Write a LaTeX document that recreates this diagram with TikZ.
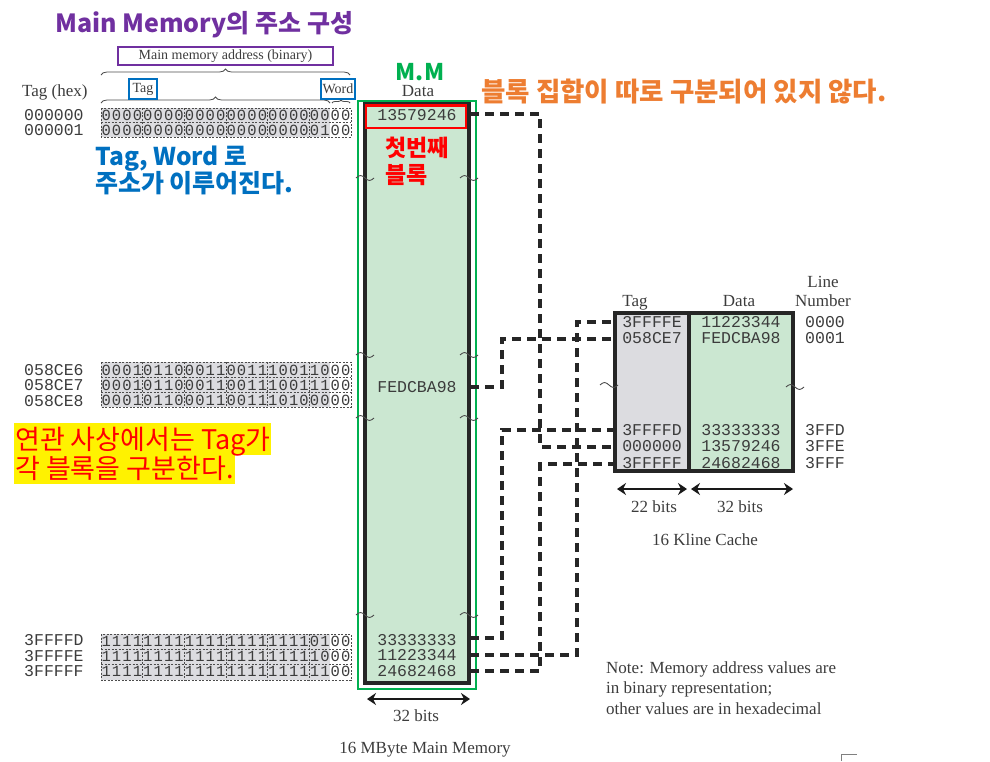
\documentclass[tikz,border=0pt]{standalone}
\usepackage{fontspec}
\setmainfont{Liberation Serif}
\setmonofont{Liberation Mono}
\newfontfamily\kr{Noto Sans CJK KR}
\usetikzlibrary{arrows.meta,decorations.pathreplacing}
\definecolor{mmpurple}{HTML}{7030A0}
\definecolor{mmblue}{HTML}{0070C0}
\definecolor{mmgreen}{HTML}{00B050}
\definecolor{mmorange}{HTML}{ED7D31}
\definecolor{memfill}{HTML}{CBE7D1}
\definecolor{tagfill}{HTML}{DCDCE0}
\definecolor{bitfill}{HTML}{DCDCE0}
\definecolor{txt}{HTML}{3C3C3C}
\newcommand\bitrow[3]{\foreach \b [count=\i from 0] in {#3}{\node[bit] (#1-\i) at ({106.2+10.4167*\i},#2) {\b};}}
\newcommand\bitgrid[2]{\fill[bitfill] (101,#1) rectangle (330,#2);
  \draw[bitdash] (101,#1) rectangle (351,#2);
  \foreach \k in {1,...,5}{\draw[bitdash] ({101+41.667*\k},#1) -- ({101+41.667*\k},#2);}}
\begin{document}
\begin{tikzpicture}[x=1pt,y=-1pt,
 serif/.style={font=\fontsize{17}{20}\selectfont, text=txt, inner sep=0pt},
 mono/.style={font=\ttfamily\fontsize{16.5}{18}\selectfont, text=txt, inner sep=0pt},
 bit/.style={font=\ttfamily\fontsize{15.5}{17}\selectfont, text=txt, inner sep=0pt},
 krb/.style={font=\kr\bfseries\fontsize{25}{30}\selectfont, inner sep=0pt},
 krr/.style={font=\kr\fontsize{27}{30}\selectfont, inner sep=0pt},
 bitdash/.style={draw=black!70, line width=0.8pt, dash pattern=on 2pt off 1.5pt},
 conn/.style={draw=black!85, line width=3.2pt, dash pattern=on 9pt off 6pt},
 dimarrow/.style={{Stealth[length=9pt,width=12pt]}-{Stealth[length=9pt,width=12pt]}, line width=2.2pt, draw=black!90},
 squig/.pic={\draw[line width=0.9pt, draw=black!70] (-9,0) sin (-4.5,-2.5) cos (0,0) sin (4.5,2.5) cos (9,0);},
 brc/.style={decorate, decoration={brace, amplitude=6pt}, draw=black!70, line width=0.8pt}
]
\useasboundingbox (0,0) rectangle (990,761);

% ---- title and address header
\node[krb, text=mmpurple, anchor=base west] (title) at (55,32) {Main Memory의 주소 구성};
\node[draw=mmpurple, line width=2.5pt, minimum width=215pt, minimum height=18pt, inner sep=0pt,
      font=\fontsize{14}{16}\selectfont, text=txt] (addrlbl) at (225.5,56) {Main memory address (binary)};
\draw[brc] (101,75) -- (350,75);
\draw[brc] (101,103) -- (330,103);
\draw[brc, decoration={brace, amplitude=3pt}] (332,103) -- (350,103);
\node[serif, anchor=base west] (taghex) at (22,96) {Tag (hex)};
\node[draw=mmblue, line width=2.3pt, minimum width=28pt, minimum height=20pt, inner sep=0pt,
      font=\fontsize{14}{16}\selectfont, text=txt] (tagbox) at (143,89) {Tag};
\node[draw=mmblue, line width=2.3pt, minimum width=34pt, minimum height=20pt, inner sep=0pt,
      font=\fontsize{14}{16}\selectfont, text=txt] (wordbox) at (338,89) {Word};
\node[krb, font=\kr\bfseries\fontsize{23}{26}\selectfont, text=mmgreen, anchor=base] (mmlbl) at (420,80) {M.M};
\node[serif, anchor=base] (datahdr) at (418,96.5) {Data};

% ---- binary address blocks
\bitgrid{108}{137}
\draw[bitdash] (101,122.5) -- (351,122.5);
\bitgrid{362}{407}
\draw[bitdash] (101,377) -- (351,377);
\draw[bitdash] (101,392) -- (351,392);
\bitgrid{634}{680}
\draw[bitdash] (101,649) -- (351,649);
\draw[bitdash] (101,664.5) -- (351,664.5);

\node[mono, anchor=west] (h1) at (24,115) {000000};
\node[mono, anchor=west] (h2) at (24,130.5) {000001};
\node[mono, anchor=west] (h3) at (24,370) {058CE6};
\node[mono, anchor=west] (h4) at (24,385.5) {058CE7};
\node[mono, anchor=west] (h5) at (24,401) {058CE8};
\node[mono, anchor=west] (h6) at (24,640.5) {3FFFFD};
\node[mono, anchor=west] (h7) at (24,656) {3FFFFE};
\node[mono, anchor=west] (h8) at (24,671.5) {3FFFFF};

\bitrow{ba}{115.5}{0,0,0,0,0,0,0,0,0,0,0,0,0,0,0,0,0,0,0,0,0,0,0,0}
\bitrow{bb}{130}{0,0,0,0,0,0,0,0,0,0,0,0,0,0,0,0,0,0,0,0,0,1,0,0}
\bitrow{bc}{370}{0,0,0,1,0,1,1,0,0,0,1,1,0,0,1,1,1,0,0,1,1,0,0,0}
\bitrow{bd}{385}{0,0,0,1,0,1,1,0,0,0,1,1,0,0,1,1,1,0,0,1,1,1,0,0}
\bitrow{be}{400.5}{0,0,0,1,0,1,1,0,0,0,1,1,0,0,1,1,1,0,1,0,0,0,0,0}
\bitrow{bf}{641}{1,1,1,1,1,1,1,1,1,1,1,1,1,1,1,1,1,1,1,1,0,1,0,0}
\bitrow{bg}{656}{1,1,1,1,1,1,1,1,1,1,1,1,1,1,1,1,1,1,1,1,1,0,0,0}
\bitrow{bh}{671.5}{1,1,1,1,1,1,1,1,1,1,1,1,1,1,1,1,1,1,1,1,1,1,0,0}

% ---- annotations on the left
\node[krb, font=\kr\bfseries\fontsize{24.5}{27}\selectfont, text=mmblue, anchor=base west] (note1a) at (95,165) {Tag, Word 로};
\node[krb, font=\kr\bfseries\fontsize{25}{27}\selectfont, text=mmblue, anchor=base west] (note1b) at (95,192) {주소가 이루어진다.};
\node[krr, text=red, fill=yellow, anchor=base west, inner xsep=1pt, text height=26pt, text depth=6pt] (note2b) at (14,478) {각 블록을 구분한다.};
\node[krr, text=red, fill=yellow, anchor=base west, inner xsep=1pt, text height=26pt, text depth=6pt] (note2a) at (14,449) {연관 사상에서는 Tag가};

% ---- main memory column
\fill[memfill] (365,103) rectangle (469,683);
\draw[line width=4pt, draw=black!85] (365,103) rectangle (469,683);
\draw[mmgreen, line width=2.5pt] (358,101) rectangle (476,689);
\draw[red, line width=2.8pt] (366,105.5) rectangle (466,128);
\node[mono] (m1) at (417,115) {13579246};
\node[mono] (m2) at (417,387) {FEDCBA98};
\node[mono] (m3) at (417,640) {33333333};
\node[mono] (m4) at (417,655.5) {11223344};
\node[mono] (m5) at (417,671) {24682468};
\node[krb, font=\kr\bfseries\fontsize{23}{26}\selectfont, text=red, anchor=base west] (first1) at (385,156) {첫번째};
\node[krb, font=\kr\bfseries\fontsize{23}{26}\selectfont, text=red, anchor=base west] (first2) at (385,183) {블록};
\foreach \yy in {178,355,418,615}{\pic at (365,\yy) {squig}; \pic at (469,\yy) {squig};}

\coordinate (ma1) at (367,699);
\coordinate (ma2) at (470,699);
\draw[dimarrow] (ma1) -- (ma2);
\node[serif, anchor=base] (mbits) at (416,721) {32 bits};
\node[serif, anchor=base] (mmcap) at (425,753) {16 MByte Main Memory};

% ---- orange remark
\node[krb, font=\kr\bfseries\fontsize{26.5}{30}\selectfont, text=mmorange, anchor=base west] (orange) at (481,101) {블록 집합이 따로 구분되어 있지 않다.};

% ---- cache
\fill[tagfill] (615,313) rectangle (689,471);
\fill[memfill] (689,313) rectangle (793,471);
\draw[line width=3.5pt, draw=black!85] (615,313) rectangle (793,471);
\draw[line width=3.5pt, draw=black!85] (689,313) -- (689,471);
\node[serif, anchor=base] (ctaghdr) at (635,306) {Tag};
\node[serif, anchor=base] (cdatahdr) at (739,306) {Data};
\node[serif, anchor=base] (clinehdr) at (823,287) {Line};
\node[serif, anchor=base] (cnumhdr) at (823,306) {Number};

\node[mono] (c1) at (652,322) {3FFFFE};
\node[mono] (c2) at (652,338.5) {058CE7};
\node[mono] (c3) at (652,430) {3FFFFD};
\node[mono] (c4) at (652,446.5) {000000};
\node[mono] (c5) at (652,463) {3FFFFF};
\node[mono] (d1) at (741,322) {11223344};
\node[mono] (d2) at (741,338.5) {FEDCBA98};
\node[mono] (d3) at (741,430) {33333333};
\node[mono] (d4) at (741,446.5) {13579246};
\node[mono] (d5) at (741,463) {24682468};
\node[mono, anchor=west] (l1) at (805,322) {0000};
\node[mono, anchor=west] (l2) at (805,338.5) {0001};
\node[mono, anchor=west] (l3) at (805,430) {3FFD};
\node[mono, anchor=west] (l4) at (805,446.5) {3FFE};
\node[mono, anchor=west] (l5) at (805,463) {3FFF};
\pic at (609,385) {squig};
\pic at (795,387) {squig};

\coordinate (ca1) at (617,489);
\coordinate (ca2) at (687,489);
\coordinate (ca3) at (691,489);
\coordinate (ca4) at (793,489);
\draw[dimarrow] (ca1) -- (ca2);
\draw[dimarrow] (ca3) -- (ca4);
\node[serif, anchor=base] (b22) at (654,512) {22 bits};
\node[serif, anchor=base] (b32) at (740,512) {32 bits};
\node[serif, anchor=base] (ccap) at (705,545) {16 Kline Cache};

% ---- connectors
\coordinate (mo1) at (470,114);
\coordinate (mo2) at (470,387);
\coordinate (mo3) at (470,638);
\coordinate (mo4) at (470,655);
\coordinate (mo5) at (470,671);
\coordinate (ci1) at (615,322);
\coordinate (ci2) at (615,339);
\coordinate (ci3) at (615,430);
\coordinate (ci4) at (615,447);
\coordinate (ci5) at (615,464);
\coordinate (va) at (502,0);
\coordinate (vb) at (540,0);
\coordinate (vc) at (577,0);
\draw[conn] (mo1) -- (mo1 -| vb) |- (ci4);
\draw[conn] (mo5) -- (mo5 -| vb) |- (ci5);
\draw[conn] (mo4) -- (mo4 -| vc) |- (ci1);
\draw[conn] (mo2) -- (mo2 -| va) |- (ci2);
\draw[conn] (mo3) -- (mo3 -| va) |- (ci3);

% ---- note
\node[serif, anchor=base west] (n1) at (606,673) {Note: Memory address values are};
\node[serif, anchor=base west] (n2) at (606,693) {in binary representation;};
\node[serif, anchor=base west] (n3) at (606,714) {other values are in hexadecimal};

\draw[black!50, line width=0.8pt] (841,761) -- (841,754) -- (857,754);
\end{tikzpicture}
\end{document}
